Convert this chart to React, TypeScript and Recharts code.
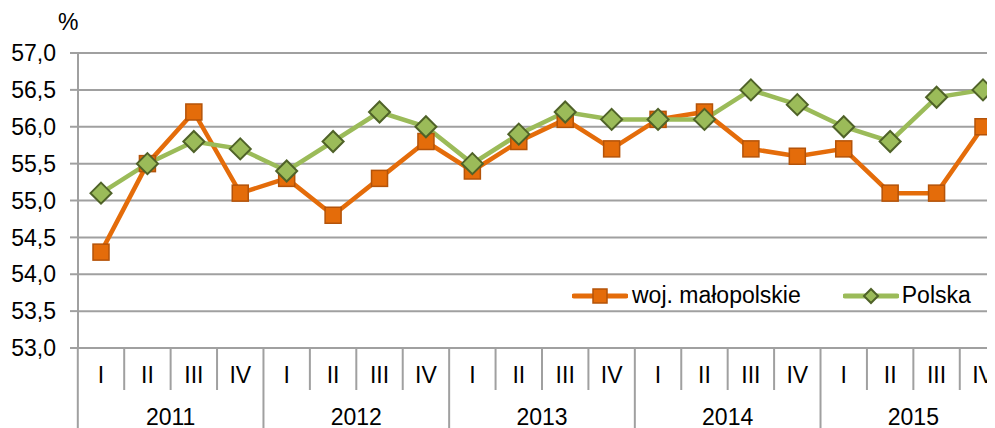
import React from 'react';
import { LineChart, Line, XAxis, YAxis, CartesianGrid, Legend } from 'recharts';

const years = ['2011', '2012', '2013', '2014', '2015'];
const quarters = ['I', 'II', 'III', 'IV'];
const malopolskie = [
  54.3, 55.5, 56.2, 55.1,
  55.3, 54.8, 55.3, 55.8,
  55.4, 55.8, 56.1, 55.7,
  56.1, 56.2, 55.7, 55.6,
  55.7, 55.1, 55.1, 56.0,
];
const polska = [
  55.1, 55.5, 55.8, 55.7,
  55.4, 55.8, 56.2, 56.0,
  55.5, 55.9, 56.2, 56.1,
  56.1, 56.1, 56.5, 56.3,
  56.0, 55.8, 56.4, 56.5,
];
const yTicks = [53, 53.5, 54, 54.5, 55, 55.5, 56, 56.5, 57];

const data = years.flatMap((y, yi) =>
  quarters.map((q, qi) => ({
    q,
    year: y,
    mal: malopolskie[yi * 4 + qi],
    pl: polska[yi * 4 + qi],
  }))
);

const FONT = '"Liberation Sans", Arial, sans-serif';
const FS = 23;
const GRID = '#a0a0a0';
const ORANGE = '#e46c0a';
const ORANGE_DARK = '#b45309';
const GREEN = '#9bbb59';
const GREEN_DARK = '#4f6228';
const HALF = 23.2;

const XTick = (props: any) => {
  const { x, y, payload, index } = props;
  const pos = index % 4;
  const els: React.ReactNode[] = [];
  els.push(
    <text key="t" x={x} y={y + 35} textAnchor="middle" fontSize={FS} fill="#000" fontFamily={FONT}>
      {payload.value}
    </text>
  );
  if (index === 0) {
    els.push(<line key="l0" x1={x - HALF} x2={x - HALF} y1={y} y2={y + 100} stroke={GRID} strokeWidth={2} />);
  }
  if (pos === 3) {
    els.push(<line key="ly" x1={x + HALF} x2={x + HALF} y1={y} y2={y + 100} stroke={GRID} strokeWidth={2} />);
  } else {
    els.push(<line key="lq" x1={x + HALF} x2={x + HALF} y1={y} y2={y + 42} stroke={GRID} strokeWidth={2} />);
  }
  if (pos === 1) {
    els.push(
      <text key="yr" x={x + HALF} y={y + 77} textAnchor="middle" fontSize={FS} fill="#000" fontFamily={FONT}>
        {data[index].year}
      </text>
    );
  }
  return <g>{els}</g>;
};

const SquareDot = (props: any) => {
  const { cx, cy } = props;
  if (cx == null || cy == null) return null;
  return <rect x={cx - 8} y={cy - 8} width={16} height={16} fill={ORANGE} stroke={ORANGE_DARK} strokeWidth={1.5} />;
};

const DiamondDot = (props: any) => {
  const { cx, cy } = props;
  if (cx == null || cy == null) return null;
  const r = 10.5;
  return (
    <polygon
      points={`${cx},${cy - r} ${cx + r},${cy} ${cx},${cy + r} ${cx - r},${cy}`}
      fill={GREEN}
      stroke={GREEN_DARK}
      strokeWidth={2}
    />
  );
};

const LegendContent = () => (
  <div style={{ display: 'flex', alignItems: 'center', fontFamily: FONT, fontSize: FS, color: '#000', whiteSpace: 'nowrap' }}>
    <svg width={56} height={20}>
      <line x1={2} x2={54} y1={10} y2={10} stroke={ORANGE} strokeWidth={5} strokeLinecap="round" />
      <rect x={21} y={3} width={14} height={14} fill={ORANGE} stroke={ORANGE_DARK} strokeWidth={1.5} />
    </svg>
    <span style={{ marginLeft: 4 }}>woj. małopolskie</span>
    <svg width={56} height={20} style={{ marginLeft: 42 }}>
      <line x1={2} x2={54} y1={10} y2={10} stroke={GREEN} strokeWidth={5} strokeLinecap="round" />
      <polygon points="28,3 35,10 28,17 21,10" fill={GREEN} stroke={GREEN_DARK} strokeWidth={2} />
    </svg>
    <span style={{ marginLeft: 3 }}>Polska</span>
  </div>
);

export default function App() {
  return (
    <div style={{ position: 'relative', width: 1002, height: 430, fontFamily: FONT }}>
      <div style={{ position: 'absolute', left: 50, top: 1, fontSize: FS, fontFamily: FONT, color: '#000' }}>%</div>
      <LineChart width={1002} height={430} data={data} margin={{ top: 45, right: 4, bottom: 0, left: 0 }}>
        <CartesianGrid vertical={false} stroke={GRID} strokeWidth={2} />
        <XAxis
          dataKey="q"
          interval={0}
          padding={{ left: 23, right: 23 }}
          height={90}
          tickLine={false}
          tickSize={0}
          tickMargin={0}
          axisLine={{ stroke: GRID, strokeWidth: 2 }}
          tick={<XTick />}
        />
        <YAxis
          domain={[53, 57]}
          ticks={yTicks}
          width={70}
          interval={0}
          tickSize={8}
          tickMargin={14}
          axisLine={{ stroke: GRID, strokeWidth: 2 }}
          tickLine={{ stroke: GRID, strokeWidth: 2 }}
          tick={{ fontSize: FS, fill: '#000', fontFamily: FONT }}
          tickFormatter={(v: number) => v.toFixed(1).replace('.', ',')}
        />
        <Legend
          verticalAlign="middle"
          align="center"
          content={<LegendContent />}
          wrapperStyle={{ position: 'absolute', left: 564, top: 274, width: 'auto' }}
        />
        <Line
          dataKey="mal"
          name="woj. małopolskie"
          stroke={ORANGE}
          strokeWidth={4.5}
          dot={<SquareDot />}
          activeDot={false}
          isAnimationActive={false}
        />
        <Line
          dataKey="pl"
          name="Polska"
          stroke={GREEN}
          strokeWidth={4.5}
          dot={<DiamondDot />}
          activeDot={false}
          isAnimationActive={false}
        />
      </LineChart>
    </div>
  );
}
